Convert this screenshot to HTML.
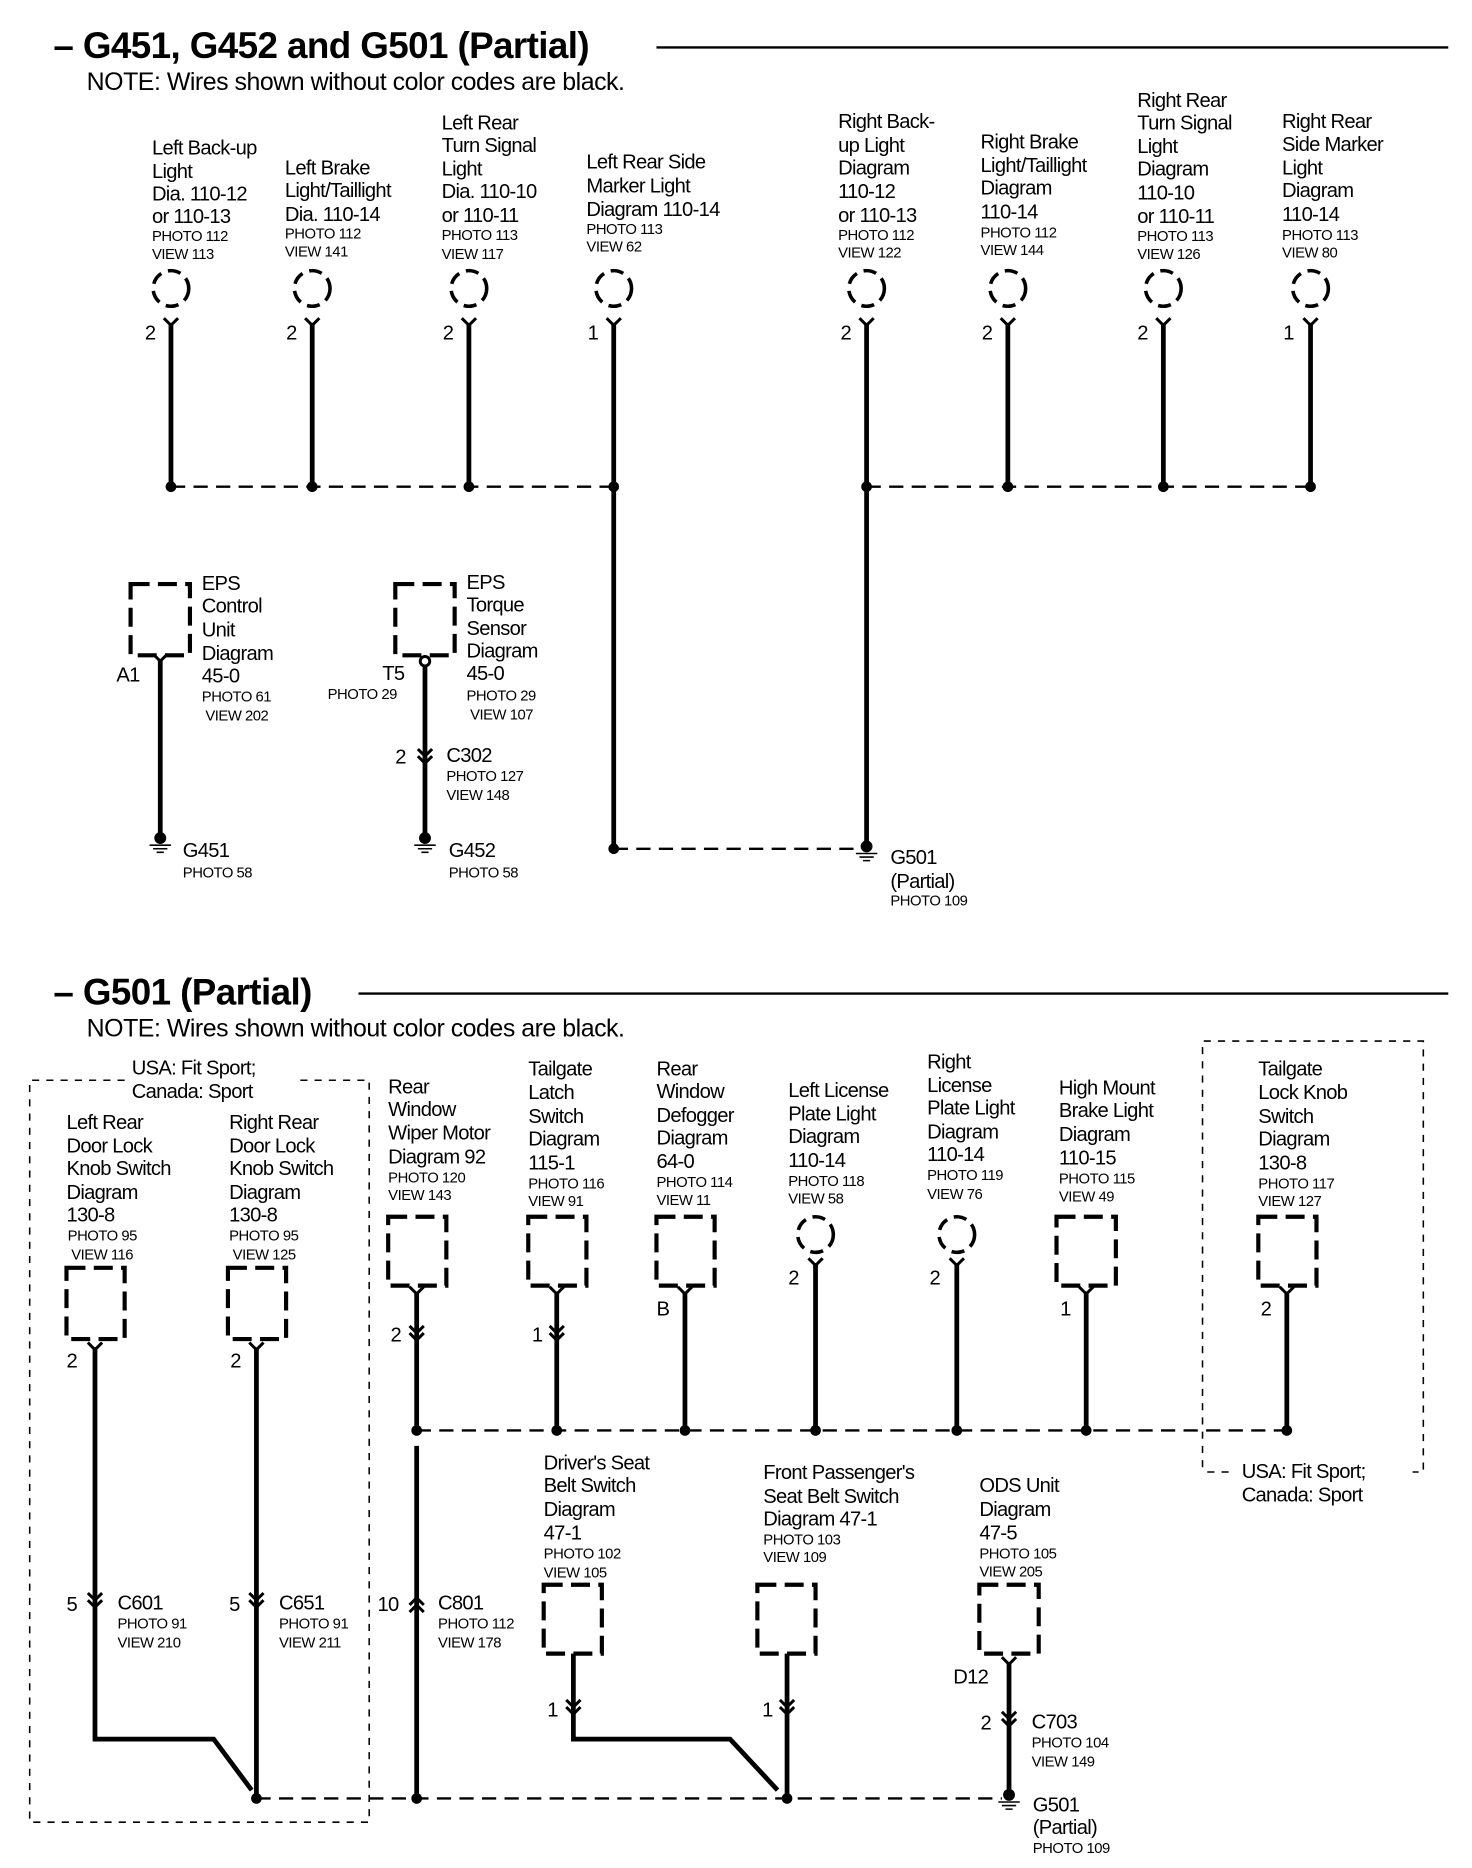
<!DOCTYPE html>
<html><head><meta charset="utf-8"><style>
html,body{margin:0;padding:0;background:#fff;}
svg{display:block;}
text{font-family:"Liberation Sans",sans-serif;fill:#000;}
.m{font-size:17px;letter-spacing:-0.6px;}
.s{font-size:12.5px;letter-spacing:-0.4px;}
.w{stroke:#000;stroke-width:4;fill:none;}
.d{stroke:#000;stroke-width:2;stroke-dasharray:12 7;fill:none;}
.bx{stroke:#000;stroke-width:3.5;stroke-dasharray:16 7;fill:none;}
.c{stroke:#000;stroke-width:3;stroke-dasharray:11 6;fill:none;}
.th{stroke:#000;stroke-width:1.3;stroke-dasharray:6 6;fill:none;}
.ch{stroke:#000;stroke-width:2.5;fill:none;}
</style></head><body>
<svg width="1472" height="1868" viewBox="0 0 1240 1573.6" xmlns="http://www.w3.org/2000/svg">
<defs>
<g id="y"><path class="ch" d="M-6,-4 L0,2 L6,-4"/></g>
<g id="dn"><path class="ch" d="M-6,-8 L0,-2 L6,-8 M-6,-2 L0,4 L6,-2"/></g>
<g id="up"><path class="ch" d="M-6,8 L0,2 L6,8 M-6,2 L0,-4 L6,2"/></g>
<g id="gnd"><circle r="5" cx="0" cy="0"/><path stroke="#000" stroke-width="1.3" d="M-9,6 H9 M-6,9 H6 M-3,12 H3"/></g>
</defs>

<!-- Section 1 title -->
<text x="45" y="49" style="font-size:31px;font-weight:bold;letter-spacing:-0.5px">– G451, G452 and G501 (Partial)</text>
<line x1="553" y1="40" x2="1220" y2="40" stroke="#000" stroke-width="2"/>
<text x="73" y="76" style="font-size:21px;letter-spacing:-0.4px">NOTE: Wires shown without color codes are black.</text>

<!-- top labels -->
<text class="m" x="128" y="130">Left Back-up</text><text class="m" x="128" y="150">Light</text><text class="m" x="128" y="169">Dia. 110-12</text><text class="m" x="128" y="188">or 110-13</text><text class="s" x="128" y="203">PHOTO 112</text><text class="s" x="128" y="218">VIEW 113</text>
<text class="m" x="240" y="147">Left Brake</text><text class="m" x="240" y="166">Light/Taillight</text><text class="m" x="240" y="186">Dia. 110-14</text><text class="s" x="240" y="201">PHOTO 112</text><text class="s" x="240" y="216">VIEW 141</text>
<text class="m" x="372" y="109">Left Rear</text><text class="m" x="372" y="128">Turn Signal</text><text class="m" x="372" y="148">Light</text><text class="m" x="372" y="167">Dia. 110-10</text><text class="m" x="372" y="187">or 110-11</text><text class="s" x="372" y="202">PHOTO 113</text><text class="s" x="372" y="218">VIEW 117</text>
<text class="m" x="494" y="142">Left Rear Side</text><text class="m" x="494" y="162">Marker Light</text><text class="m" x="494" y="182">Diagram 110-14</text><text class="s" x="494" y="197">PHOTO 113</text><text class="s" x="494" y="212">VIEW 62</text>
<text class="m" x="706" y="108">Right Back-</text><text class="m" x="706" y="128">up Light</text><text class="m" x="706" y="147">Diagram</text><text class="m" x="706" y="167">110-12</text><text class="m" x="706" y="187">or 110-13</text><text class="s" x="706" y="202">PHOTO 112</text><text class="s" x="706" y="217">VIEW 122</text>
<text class="m" x="826" y="125">Right  Brake</text><text class="m" x="826" y="145">Light/Taillight</text><text class="m" x="826" y="164">Diagram</text><text class="m" x="826" y="184">110-14</text><text class="s" x="826" y="200">PHOTO 112</text><text class="s" x="826" y="215">VIEW 144</text>
<text class="m" x="958" y="90">Right Rear</text><text class="m" x="958" y="109">Turn Signal</text><text class="m" x="958" y="129">Light</text><text class="m" x="958" y="148">Diagram</text><text class="m" x="958" y="168">110-10</text><text class="m" x="958" y="188">or 110-11</text><text class="s" x="958" y="203">PHOTO 113</text><text class="s" x="958" y="218">VIEW 126</text>
<text class="m" x="1080" y="108">Right Rear</text><text class="m" x="1080" y="127">Side Marker</text><text class="m" x="1080" y="147">Light</text><text class="m" x="1080" y="166">Diagram</text><text class="m" x="1080" y="186">110-14</text><text class="s" x="1080" y="202">PHOTO 113</text><text class="s" x="1080" y="217">VIEW 80</text>

<!-- top circles & wires -->
<g>
<circle class="c" cx="144" cy="243" r="15"/><circle class="c" cx="263" cy="243" r="15"/><circle class="c" cx="395" cy="243" r="15"/><circle class="c" cx="517" cy="243" r="15"/>
<circle class="c" cx="730" cy="243" r="15"/><circle class="c" cx="849" cy="243" r="15"/><circle class="c" cx="980" cy="243" r="15"/><circle class="c" cx="1104" cy="243" r="15"/>
<use href="#y" x="144" y="272"/><use href="#y" x="263" y="272"/><use href="#y" x="395" y="272"/><use href="#y" x="517" y="272"/>
<use href="#y" x="730" y="272"/><use href="#y" x="849" y="272"/><use href="#y" x="980" y="272"/><use href="#y" x="1104" y="272"/>
<path class="w" d="M144,272V410 M263,272V410 M395,272V410 M517,272V715 M730,272V710 M849,272V410 M980,272V410 M1104,272V410"/>
<line class="d" x1="144" y1="410" x2="517" y2="410"/><line class="d" x1="730" y1="410" x2="1104" y2="410"/>
<circle cx="144" cy="410" r="4.5"/><circle cx="263" cy="410" r="4.5"/><circle cx="395" cy="410" r="4.5"/><circle cx="517" cy="410" r="4.5"/>
<circle cx="730" cy="410" r="4.5"/><circle cx="849" cy="410" r="4.5"/><circle cx="980" cy="410" r="4.5"/><circle cx="1104" cy="410" r="4.5"/>
<text class="m" x="122" y="286">2</text><text class="m" x="241" y="286">2</text><text class="m" x="373" y="286">2</text><text class="m" x="495" y="286">1</text>
<text class="m" x="708" y="286">2</text><text class="m" x="827" y="286">2</text><text class="m" x="958" y="286">2</text><text class="m" x="1081" y="286">1</text>
</g>
<line class="d" x1="517" y1="715" x2="724" y2="715"/><circle cx="517" cy="715" r="4.5"/>
<use href="#gnd" x="730" y="713"/>
<text class="m" x="750" y="728">G501</text><text class="m" x="750" y="748">(Partial)</text><text class="s" x="750" y="763">PHOTO 109</text>

<!-- EPS control -->
<rect class="bx" x="110" y="492" width="50" height="60"/>
<use href="#y" x="135" y="555"/>
<path class="w" d="M135,555V706"/>
<use href="#gnd" x="135" y="706"/>
<text class="m" x="98" y="574">A1</text>
<text class="m" x="170" y="497">EPS</text><text class="m" x="170" y="516">Control</text><text class="m" x="170" y="536">Unit</text><text class="m" x="170" y="556">Diagram</text><text class="m" x="170" y="575">45-0</text><text class="s" x="170" y="591">PHOTO 61</text><text class="s" x="173" y="607">VIEW 202</text>
<text class="m" x="154" y="722">G451</text><text class="s" x="154" y="739">PHOTO 58</text>

<!-- EPS torque -->
<rect class="bx" x="333" y="492" width="50" height="60"/>
<circle cx="358" cy="557" r="4" fill="#fff" stroke="#000" stroke-width="2.5"/>
<path class="w" d="M358,561V706"/>
<use href="#dn" x="358" y="639"/>
<use href="#gnd" x="358" y="706"/>
<text class="m" x="322" y="573">T5</text><text class="s" x="276" y="589">PHOTO 29</text>
<text class="m" x="393" y="496">EPS</text><text class="m" x="393" y="515">Torque</text><text class="m" x="393" y="535">Sensor</text><text class="m" x="393" y="554">Diagram</text><text class="m" x="393" y="573">45-0</text><text class="s" x="393" y="590">PHOTO 29</text><text class="s" x="396" y="606">VIEW 107</text>
<text class="m" x="333" y="643">2</text><text class="m" x="376" y="642">C302</text><text class="s" x="376" y="658">PHOTO 127</text><text class="s" x="376" y="674">VIEW 148</text>
<text class="m" x="378" y="722">G452</text><text class="s" x="378" y="739">PHOTO 58</text>

<!-- Section 2 -->
<text x="45" y="846" style="font-size:31px;font-weight:bold;letter-spacing:-0.5px">– G501 (Partial)</text>
<line x1="302" y1="837" x2="1220" y2="837" stroke="#000" stroke-width="2"/>
<text x="73" y="873" style="font-size:21px;letter-spacing:-0.4px">NOTE: Wires shown without color codes are black.</text>

<!-- left dashed region -->
<path class="th" d="M105,910 H25 V1535 H311 V910 H252"/>
<text class="m" x="111" y="905">USA: Fit Sport;</text><text class="m" x="111" y="925">Canada: Sport</text>
<text class="m" x="56" y="951">Left Rear</text><text class="m" x="56" y="971">Door Lock</text><text class="m" x="56" y="990">Knob Switch</text><text class="m" x="56" y="1010">Diagram</text><text class="m" x="56" y="1029">130-8</text><text class="s" x="57" y="1045">PHOTO 95</text><text class="s" x="60" y="1061">VIEW 116</text>
<text class="m" x="193" y="951">Right Rear</text><text class="m" x="193" y="971">Door Lock</text><text class="m" x="193" y="990">Knob Switch</text><text class="m" x="193" y="1010">Diagram</text><text class="m" x="193" y="1029">130-8</text><text class="s" x="193" y="1045">PHOTO 95</text><text class="s" x="196" y="1061">VIEW 125</text>
<rect class="bx" x="56" y="1068" width="49" height="60"/><rect class="bx" x="192" y="1068" width="49" height="60"/>
<use href="#y" x="80" y="1135"/><use href="#y" x="216" y="1135"/>
<text class="m" x="56" y="1152">2</text><text class="m" x="194" y="1152">2</text>
<path class="w" d="M80,1135V1465H180L212,1508"/>
<path class="w" d="M216,1135V1515"/>
<use href="#dn" x="80" y="1350"/><use href="#dn" x="216" y="1350"/>
<text class="m" x="56" y="1357">5</text><text class="m" x="193" y="1357">5</text>
<text class="m" x="99" y="1356">C601</text><text class="s" x="99" y="1372">PHOTO 91</text><text class="s" x="99" y="1388">VIEW 210</text>
<text class="m" x="235" y="1356">C651</text><text class="s" x="235" y="1372">PHOTO 91</text><text class="s" x="235" y="1388">VIEW 211</text>

<!-- right dashed region -->
<path class="th" d="M1013,1236 V877 H1199 V1240 H1190 M1035,1240 H1013"/>
<text class="m" x="1046" y="1245">USA: Fit Sport;</text><text class="m" x="1046" y="1265">Canada: Sport</text>

<!-- upper labels -->
<text class="m" x="327" y="921">Rear</text><text class="m" x="327" y="940">Window</text><text class="m" x="327" y="960">Wiper Motor</text><text class="m" x="327" y="980">Diagram 92</text><text class="s" x="327" y="996">PHOTO 120</text><text class="s" x="327" y="1011">VIEW 143</text>
<text class="m" x="445" y="906">Tailgate</text><text class="m" x="445" y="926">Latch</text><text class="m" x="445" y="946">Switch</text><text class="m" x="445" y="965">Diagram</text><text class="m" x="445" y="985">115-1</text><text class="s" x="445" y="1001">PHOTO 116</text><text class="s" x="445" y="1016">VIEW 91</text>
<text class="m" x="553" y="906">Rear</text><text class="m" x="553" y="925">Window</text><text class="m" x="553" y="945">Defogger</text><text class="m" x="553" y="964">Diagram</text><text class="m" x="553" y="984">64-0</text><text class="s" x="553" y="1000">PHOTO 114</text><text class="s" x="553" y="1015">VIEW 11</text>
<text class="m" x="664" y="924">Left License</text><text class="m" x="664" y="944">Plate Light</text><text class="m" x="664" y="963">Diagram</text><text class="m" x="664" y="983">110-14</text><text class="s" x="664" y="999">PHOTO 118</text><text class="s" x="664" y="1014">VIEW 58</text>
<text class="m" x="781" y="900">Right</text><text class="m" x="781" y="920">License</text><text class="m" x="781" y="939">Plate Light</text><text class="m" x="781" y="959">Diagram</text><text class="m" x="781" y="978">110-14</text><text class="s" x="781" y="994">PHOTO 119</text><text class="s" x="781" y="1010">VIEW 76</text>
<text class="m" x="892" y="922">High  Mount</text><text class="m" x="892" y="941">Brake  Light</text><text class="m" x="892" y="961">Diagram</text><text class="m" x="892" y="981">110-15</text><text class="s" x="892" y="997">PHOTO 115</text><text class="s" x="892" y="1012">VIEW 49</text>
<text class="m" x="1060" y="906">Tailgate</text><text class="m" x="1060" y="926">Lock Knob</text><text class="m" x="1060" y="946">Switch</text><text class="m" x="1060" y="965">Diagram</text><text class="m" x="1060" y="985">130-8</text><text class="s" x="1060" y="1001">PHOTO 117</text><text class="s" x="1060" y="1016">VIEW 127</text>

<rect class="bx" x="327" y="1025" width="49" height="58"/><rect class="bx" x="445" y="1025" width="49" height="58"/><rect class="bx" x="553" y="1025" width="49" height="58"/>
<circle class="c" cx="687" cy="1040" r="15"/><circle class="c" cx="806" cy="1040" r="15"/>
<rect class="bx" x="890" y="1025" width="50" height="58"/><rect class="bx" x="1060" y="1025" width="49" height="58"/>
<use href="#y" x="351" y="1088"/><use href="#y" x="469" y="1088"/><use href="#y" x="577" y="1088"/><use href="#y" x="687" y="1064"/><use href="#y" x="806" y="1064"/><use href="#y" x="915" y="1088"/><use href="#y" x="1084" y="1088"/>
<path class="w" d="M351,1088V1205 M469,1088V1205 M577,1088V1205 M687,1064V1205 M806,1064V1205 M915,1088V1205 M1084,1088V1205"/>
<use href="#dn" x="351" y="1125"/><use href="#dn" x="469" y="1125"/>
<text class="m" x="329" y="1130">2</text><text class="m" x="448" y="1130">1</text><text class="m" x="553" y="1108">B</text><text class="m" x="664" y="1082">2</text><text class="m" x="783" y="1082">2</text><text class="m" x="893" y="1108">1</text><text class="m" x="1062" y="1108">2</text>
<line class="d" x1="351" y1="1205" x2="1084" y2="1205"/>
<circle cx="351" cy="1205" r="4.5"/><circle cx="469" cy="1205" r="4.5"/><circle cx="577" cy="1205" r="4.5"/><circle cx="687" cy="1205" r="4.5"/><circle cx="806" cy="1205" r="4.5"/><circle cx="915" cy="1205" r="4.5"/><circle cx="1084" cy="1205" r="4.5"/>

<!-- C801 -->
<path class="w" d="M351,1218V1515"/>
<use href="#up" x="351" y="1350"/>
<text class="m" x="318" y="1357">10</text>
<text class="m" x="369" y="1356">C801</text><text class="s" x="369" y="1372">PHOTO 112</text><text class="s" x="369" y="1388">VIEW 178</text>

<!-- Driver's seat -->
<text class="m" x="458" y="1238">Driver's Seat</text><text class="m" x="458" y="1257">Belt Switch</text><text class="m" x="458" y="1277">Diagram</text><text class="m" x="458" y="1297">47-1</text><text class="s" x="458" y="1313">PHOTO 102</text><text class="s" x="458" y="1329">VIEW 105</text>
<rect class="bx" x="458" y="1335" width="49" height="58"/>
<path class="w" d="M483,1393V1465H615L655,1508"/>
<use href="#dn" x="483" y="1440"/>
<text class="m" x="461" y="1446">1</text>

<!-- Front passenger -->
<text class="m" x="643" y="1246">Front Passenger's</text><text class="m" x="643" y="1266">Seat Belt Switch</text><text class="m" x="643" y="1285">Diagram 47-1</text><text class="s" x="643" y="1301">PHOTO 103</text><text class="s" x="643" y="1316">VIEW 109</text>
<rect class="bx" x="638" y="1335" width="49" height="58"/>
<path class="w" d="M663,1393V1515"/>
<use href="#dn" x="663" y="1440"/>
<text class="m" x="642" y="1446">1</text>

<!-- ODS -->
<text class="m" x="825" y="1257">ODS Unit</text><text class="m" x="825" y="1277">Diagram</text><text class="m" x="825" y="1297">47-5</text><text class="s" x="825" y="1313">PHOTO 105</text><text class="s" x="825" y="1328">VIEW 205</text>
<rect class="bx" x="825" y="1335" width="50" height="58"/>
<use href="#y" x="850" y="1400"/>
<path class="w" d="M850,1400V1510"/>
<use href="#dn" x="850" y="1450"/>
<text class="m" x="803" y="1418">D12</text>
<text class="m" x="826" y="1457">2</text>
<text class="m" x="869" y="1456">C703</text><text class="s" x="869" y="1472">PHOTO 104</text><text class="s" x="869" y="1488">VIEW 149</text>
<use href="#gnd" x="850" y="1512"/>
<text class="m" x="870" y="1526">G501</text><text class="m" x="870" y="1545">(Partial)</text><text class="s" x="870" y="1561">PHOTO 109</text>

<line class="d" x1="216" y1="1515" x2="844" y2="1515"/>
<circle cx="216" cy="1515" r="4.5"/><circle cx="351" cy="1515" r="4.5"/><circle cx="663" cy="1515" r="4.5"/>
</svg>
</body></html>
